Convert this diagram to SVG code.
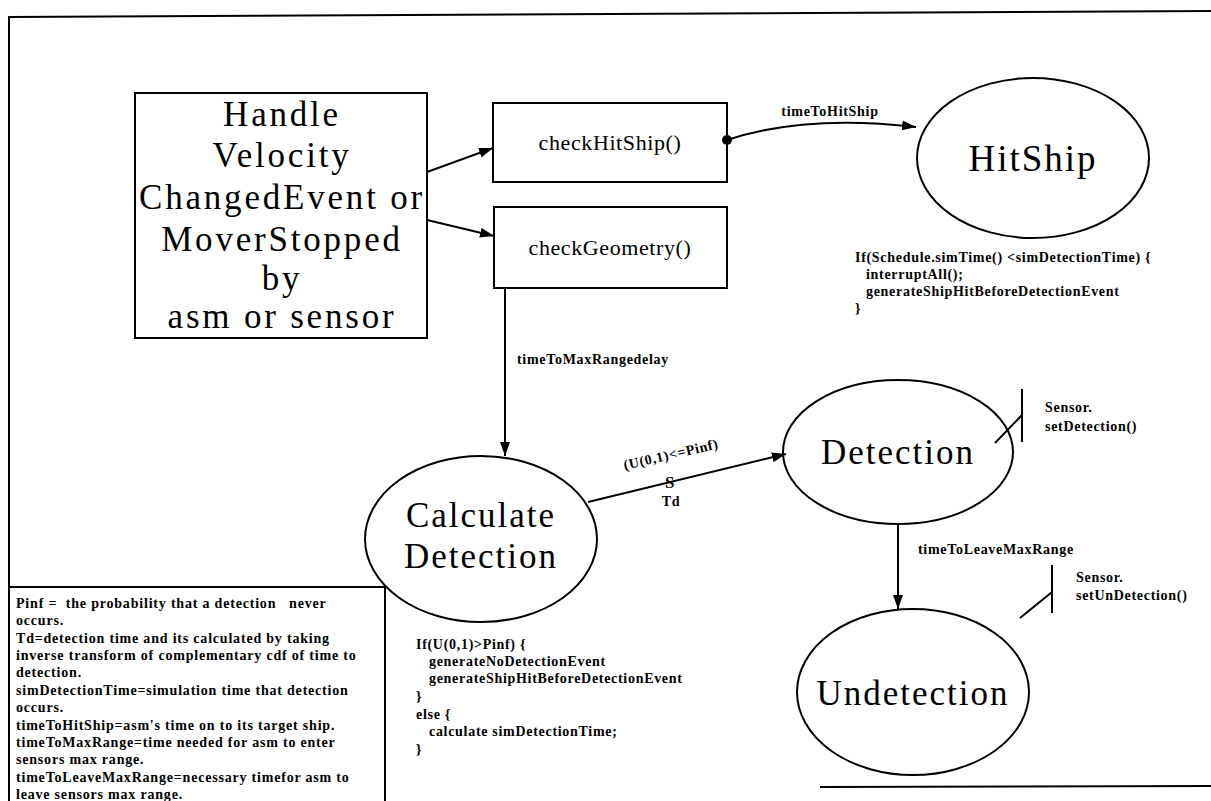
<svg xmlns="http://www.w3.org/2000/svg" width="1211" height="801" viewBox="0 0 1211 801">
<style>
.ln{fill:none;stroke:#000;stroke-width:2}
.big{font-family:"Liberation Serif","Times New Roman",serif;font-size:35px;letter-spacing:2px;fill:#000;text-anchor:middle}
.hb{letter-spacing:2.8px}
.mid{font-family:"Liberation Serif","Times New Roman",serif;font-size:22px;letter-spacing:0.6px;fill:#000;text-anchor:middle}
.sm{font-family:"Liberation Serif","Times New Roman",serif;font-size:14px;font-weight:bold;letter-spacing:0.7px;fill:#000}
.lg{letter-spacing:0.8px}
</style>
<defs>
<marker id="ah" viewBox="0 0 14 10" refX="14" refY="5" markerWidth="14" markerHeight="10" markerUnits="userSpaceOnUse" orient="auto">
<path d="M0,0 L14,5 L0,10 z" fill="#000"/>
</marker>
</defs>
<rect width="1211" height="801" fill="#fff"/>
<g id="frame" class="ln">
<path d="M8,17 L1211,11"/>
<path d="M9,16 L9,801"/>
<path d="M820,787 L1211,786"/>
</g>
<g id="handle">
<rect x="135" y="93" width="292" height="245" class="ln"/>
<text class="big hb" x="282" y="126">Handle</text>
<text class="big hb" x="282" y="167">Velocity</text>
<text class="big hb" x="282" y="209">ChangedEvent or</text>
<text class="big hb" x="282" y="251">MoverStopped</text>
<text class="big hb" x="282" y="290">by</text>
<text class="big hb" x="282" y="328">asm or sensor</text>
</g>
<g id="checkHitShip">
<rect x="493" y="103" width="234" height="79" class="ln"/>
<text class="mid" x="610" y="150">checkHitShip()</text>
</g>
<g id="checkGeometry">
<rect x="494" y="207" width="233" height="81" class="ln"/>
<text class="mid" x="610" y="255">checkGeometry()</text>
</g>
<g id="hitShip">
<ellipse cx="1033" cy="158" rx="116" ry="80" class="ln"/>
<text class="big" x="1033" y="171" style="font-size:37px">HitShip</text>
<text class="sm" x="855" y="262">If(Schedule.simTime() &lt;simDetectionTime) {</text>
<text class="sm" x="866" y="279">interruptAll();</text>
<text class="sm" x="866" y="296">generateShipHitBeforeDetectionEvent</text>
<text class="sm" x="855" y="313">}</text>
</g>
<g id="calculateDetection">
<ellipse cx="481" cy="539" rx="116" ry="83" class="ln"/>
<text class="big" x="481" y="527">Calculate</text>
<text class="big" x="481" y="568">Detection</text>
<text class="sm" x="416" y="649">If(U(0,1)&gt;Pinf) {</text>
<text class="sm" x="429" y="666">generateNoDetectionEvent</text>
<text class="sm" x="429" y="683">generateShipHitBeforeDetectionEvent</text>
<text class="sm" x="416" y="701">}</text>
<text class="sm" x="416" y="719">else {</text>
<text class="sm" x="429" y="736">calculate simDetectionTime;</text>
<text class="sm" x="416" y="754">}</text>
</g>
<g id="detection">
<ellipse cx="898" cy="452" rx="115" ry="72" class="ln"/>
<text class="big" x="898" y="464">Detection</text>
<path class="ln" d="M995,443 L1022,415 M1022,389 L1022,442"/>
<text class="sm" x="1045" y="412">Sensor.</text>
<text class="sm" x="1045" y="431">setDetection()</text>
</g>
<g id="undetection">
<ellipse cx="913" cy="692" rx="116" ry="83" class="ln"/>
<text class="big" x="913" y="705">Undetection</text>
<path class="ln" d="M1020,618 L1052,592 M1052,565 L1052,613"/>
<text class="sm" x="1076" y="582">Sensor.</text>
<text class="sm" x="1076" y="600">setUnDetection()</text>
</g>
<g id="legend">
<path class="ln" d="M9,587 L385,587 L385,801"/>
<g class="sm lg">
<text x="16" y="608" xml:space="preserve">Pinf =  the probability that a detection   never</text>
<text x="16" y="625">occurs.</text>
<text x="16" y="643">Td=detection time and its calculated by taking</text>
<text x="16" y="660">inverse transform of complementary cdf of time to</text>
<text x="16" y="677">detection.</text>
<text x="16" y="695">simDetectionTime=simulation time that detection</text>
<text x="16" y="712">occurs.</text>
<text x="16" y="730">timeToHitShip=asm's time on to its target ship.</text>
<text x="16" y="747">timeToMaxRange=time needed for asm to enter</text>
<text x="16" y="764">sensors max range.</text>
<text x="16" y="782">timeToLeaveMaxRange=necessary timefor asm to</text>
<text x="16" y="799">leave sensors max range.</text>
</g>
</g>
<g id="connectors">
<path class="ln" d="M427,172 L493,148" marker-end="url(#ah)"/>
<path class="ln" d="M427,220 L494,236" marker-end="url(#ah)"/>
<circle cx="727" cy="140" r="5" fill="#000"/>
<path class="ln" d="M727,140 Q805,114 916,127" marker-end="url(#ah)"/>
<text class="sm" x="830" y="116" text-anchor="middle">timeToHitShip</text>
<path class="ln" d="M505,288 L505,456" marker-end="url(#ah)"/>
<text class="sm" x="517" y="364">timeToMaxRangedelay</text>
<path class="ln" d="M588,502 L786,454" marker-end="url(#ah)"/>
<text class="sm" x="0" y="0" text-anchor="middle" transform="translate(672,459) rotate(-13)">(U(0,1)&lt;=Pinf)</text>
<text class="sm" x="670" y="488" text-anchor="middle" style="font-size:17px">S</text>
<text class="sm" x="671" y="506" text-anchor="middle">Td</text>
<path class="ln" d="M898,524 L898,609" marker-end="url(#ah)"/>
<text class="sm" x="918" y="554">timeToLeaveMaxRange</text>
</g>
</svg>
